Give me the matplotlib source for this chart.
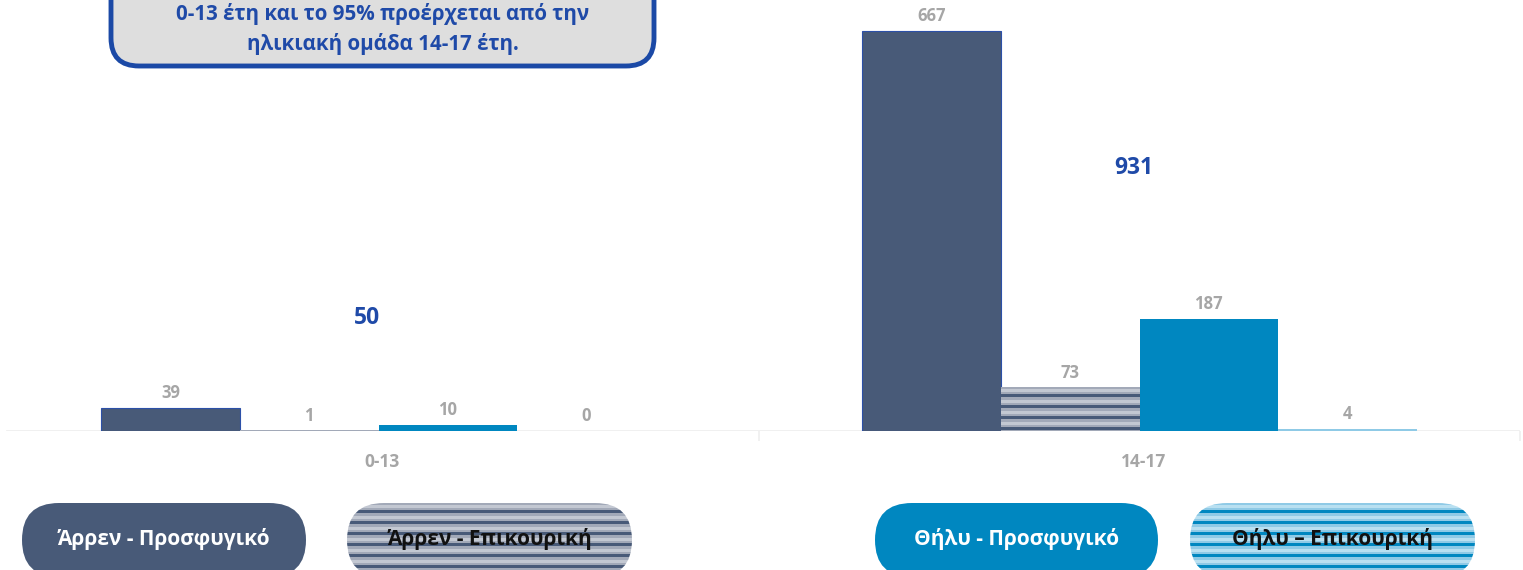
import numpy as np
import matplotlib
matplotlib.use("Agg")
import matplotlib.pyplot as plt
from matplotlib.patches import FancyBboxPatch

plt.rcParams['font.family'] = ['Open Sans', 'DejaVu Sans']
plt.rcParams['font.weight'] = 'bold'

# data
age_groups = ['0-13', '14-17']
series = ['Άρρεν - Προσφυγικό', 'Άρρεν - Επικουρική', 'Θήλυ - Προσφυγικό', 'Θήλυ – Επικουρική']
male_refugee = [39, 667]
male_subsidiary = [1, 73]
female_refugee = [10, 187]
female_subsidiary = [0, 4]
totals = [50, 931]
note_lines = ['0-13 έτη και το 95% προέρχεται από την', 'ηλικιακή ομάδα 14-17 έτη.']

NAVY = '#485a78'
BLUE = '#0087c0'
GRAY_LBL = '#a6a6a6'
TITLE_BLUE = '#1f4aa8'

# stripe textures (one row per pixel)
navy_stripes = ['#a2a9b8', '#a2a9b8', '#c3c8d2', '#c3c8d2', '#c3c8d2', '#a2a9b8', '#a2a9b8',
                '#485a78', '#485a78', '#485a78', '#a2a9b8']
blue_stripes = ['#8fcae6', '#8fcae6', '#b9e0f1', '#b9e0f1', '#b9e0f1', '#8fcae6', '#8fcae6',
                '#0087c0', '#0087c0', '#0087c0', '#8fcae6']


def texture(colors, n_rows):
    rgb = np.array([matplotlib.colors.to_rgb(c) for c in colors])
    idx = np.arange(max(n_rows, 1)) % len(colors)
    return rgb[idx][:, None, :]


fig = plt.figure(figsize=(15.23, 5.70), dpi=100)
W, H = 1523, 570
ax = fig.add_axes([-2 / W, 139 / H, 1522 / W, 429 / H])
ax.set_xlim(-0.5, 1.5)
ax.set_ylim(0, 715)
ax.set_autoscale_on(False)

x = np.arange(len(age_groups))
w = 0.1822
vals = [male_refugee, male_subsidiary, female_refugee, female_subsidiary]
faces = [NAVY, '#a2a9b8', BLUE, '#6db8e2']
stripes = [None, navy_stripes, None, blue_stripes]
edges = ['#2c50a8', 'none', 'none', 'none']

px_per_unit = ax.transData.transform((0, 1))[1] - ax.transData.transform((0, 0))[1]

for i, (v, fc, st, ec) in enumerate(zip(vals, faces, stripes, edges)):
    bars = ax.bar(x + (i - 1.5) * w, v, width=w, color=fc, edgecolor=ec, linewidth=0.8, zorder=2)
    for b, val in zip(bars, v):
        if st is not None and val > 0:
            h = b.get_height()
            rows = int(round(h * px_per_unit))
            im = ax.imshow(texture(st, rows), extent=(b.get_x(), b.get_x() + b.get_width(), 0, h),
                           aspect='auto', interpolation='nearest', origin='upper', zorder=2.5)
            im.set_clip_path(b)
        ax.annotate(str(val), (b.get_x() + b.get_width() / 2, b.get_height()),
                    xytext=(0, 4), textcoords='offset points', ha='center', va='bottom',
                    fontsize=12, fontweight='bold', color=GRAY_LBL)

# total labels
ax.text(x[0] - 0.015, 188, str(totals[0]), ha='center', va='center', fontsize=16.5,
        fontweight='bold', color=TITLE_BLUE)
ax.text(x[1] - 0.007, 438, str(totals[1]), ha='center', va='center', fontsize=16.5,
        fontweight='bold', color=TITLE_BLUE)

for s in ax.spines.values():
    s.set_visible(False)
ax.axhline(0, color='#efefef', linewidth=2, zorder=1, xmin=0.006, xmax=1.0)
ax.set_yticks([])
ax.set_xticks([0.5, 1.5], minor=False)
ax.tick_params(axis='x', length=7, width=1.2, color='#efefef', labelbottom=False)
for xi, g in zip(x, age_groups):
    ax.annotate(g, (xi + 0.005, 0), xytext=(0, -16), textcoords='offset points', ha='center',
                va='top', fontsize=12.5, fontweight='bold', color=GRAY_LBL)

# overlay in pixel coordinates for callout and legend
ov = fig.add_axes([0, 0, 1, 1], zorder=5)
ov.set_xlim(0, W)
ov.set_ylim(H, 0)
ov.axis('off')
ov.set_autoscale_on(False)

box = FancyBboxPatch((111, -60), 543, 126, boxstyle='round,pad=0,rounding_size=28',
                     facecolor='#dedede', edgecolor='#1b49a6', linewidth=3.5)
ov.add_patch(box)
ov.text(383, 14, note_lines[0], ha='center', va='center', fontsize=14.8, fontweight='bold', color=TITLE_BLUE)
ov.text(383, 44, note_lines[1], ha='center', va='center', fontsize=14.8, fontweight='bold', color=TITLE_BLUE)

pills = [(22, 306), (347, 632), (875, 1158), (1190, 1475)]
pill_faces = [NAVY, None, BLUE, None]
txt_colors = ['white', '#111111', 'white', '#111111']
for (x0, x1), pf, st, name, tc in zip(pills, pill_faces, stripes, series, txt_colors):
    p = FancyBboxPatch((x0, 503), x1 - x0, 74, boxstyle='round,pad=0,rounding_size=37',
                       facecolor=pf if pf else 'none', edgecolor='none')
    ov.add_patch(p)
    if st is not None:
        im = ov.imshow(texture(st, 74), extent=(x0, x1, 577, 503), aspect='auto',
                       interpolation='nearest', origin='upper')
        im.set_clip_path(p)
    ov.text((x0 + x1) / 2, 539, name, ha='center', va='center', fontsize=15,
            fontweight='bold', color=tc)

fig.savefig('out.png', dpi=100)
